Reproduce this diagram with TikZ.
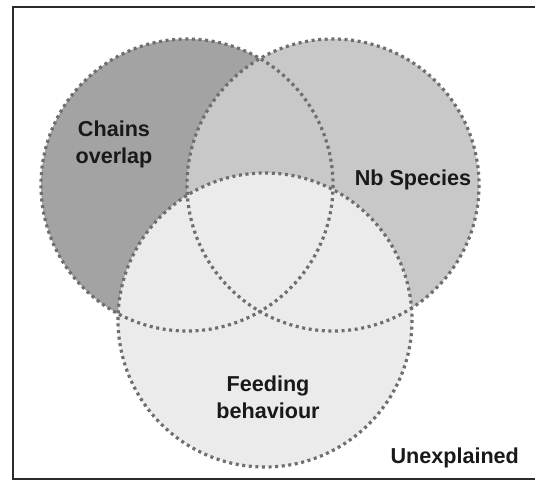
\documentclass[tikz,border=0pt]{standalone}
\usepackage{fontspec}
\setmainfont{Liberation Sans}
\definecolor{chainsgray}{HTML}{A3A3A3}
\definecolor{speciesgray}{HTML}{C8C8C8}
\definecolor{feedgray}{HTML}{EBEBEB}
\definecolor{dotgray}{HTML}{6E6E6E}
\definecolor{framegray}{HTML}{2B2B2B}
\tikzset{
  setline/.style={draw=dotgray,line width=1.6pt,dash pattern=on 1.5pt off 1.8pt},
  setlabel/.style={font=\fontsize{10.8}{13.5}\selectfont\bfseries,text=black!90,align=center}
}
\begin{document}
\begin{tikzpicture}[x=0.5pt,y=-0.5pt]
  \useasboundingbox (0,0) rectangle (535,480);
  \fill[white] (0,0) rectangle (535,480);
  \draw[framegray,line width=1pt] (13,7) rectangle (540,479);
  \fill[chainsgray] (187,185) circle[radius=146];
  \fill[speciesgray] (333,185) circle[radius=146];
  \fill[feedgray] (265,320) circle[radius=147];
  \draw[setline] (187,185) circle[radius=146];
  \draw[setline] (333,185) circle[radius=146];
  \draw[setline] (265,320) circle[radius=147];
  \node[setlabel] (chains) at (114,144) {Chains\\overlap};
  \node[setlabel] (species) at (413,180) {Nb Species};
  \node[setlabel] (feeding) at (268,397) {Feeding\\behaviour};
  \node[setlabel,anchor=east] (unexpl) at (526,458) {Unexplained};
\end{tikzpicture}
\end{document}
